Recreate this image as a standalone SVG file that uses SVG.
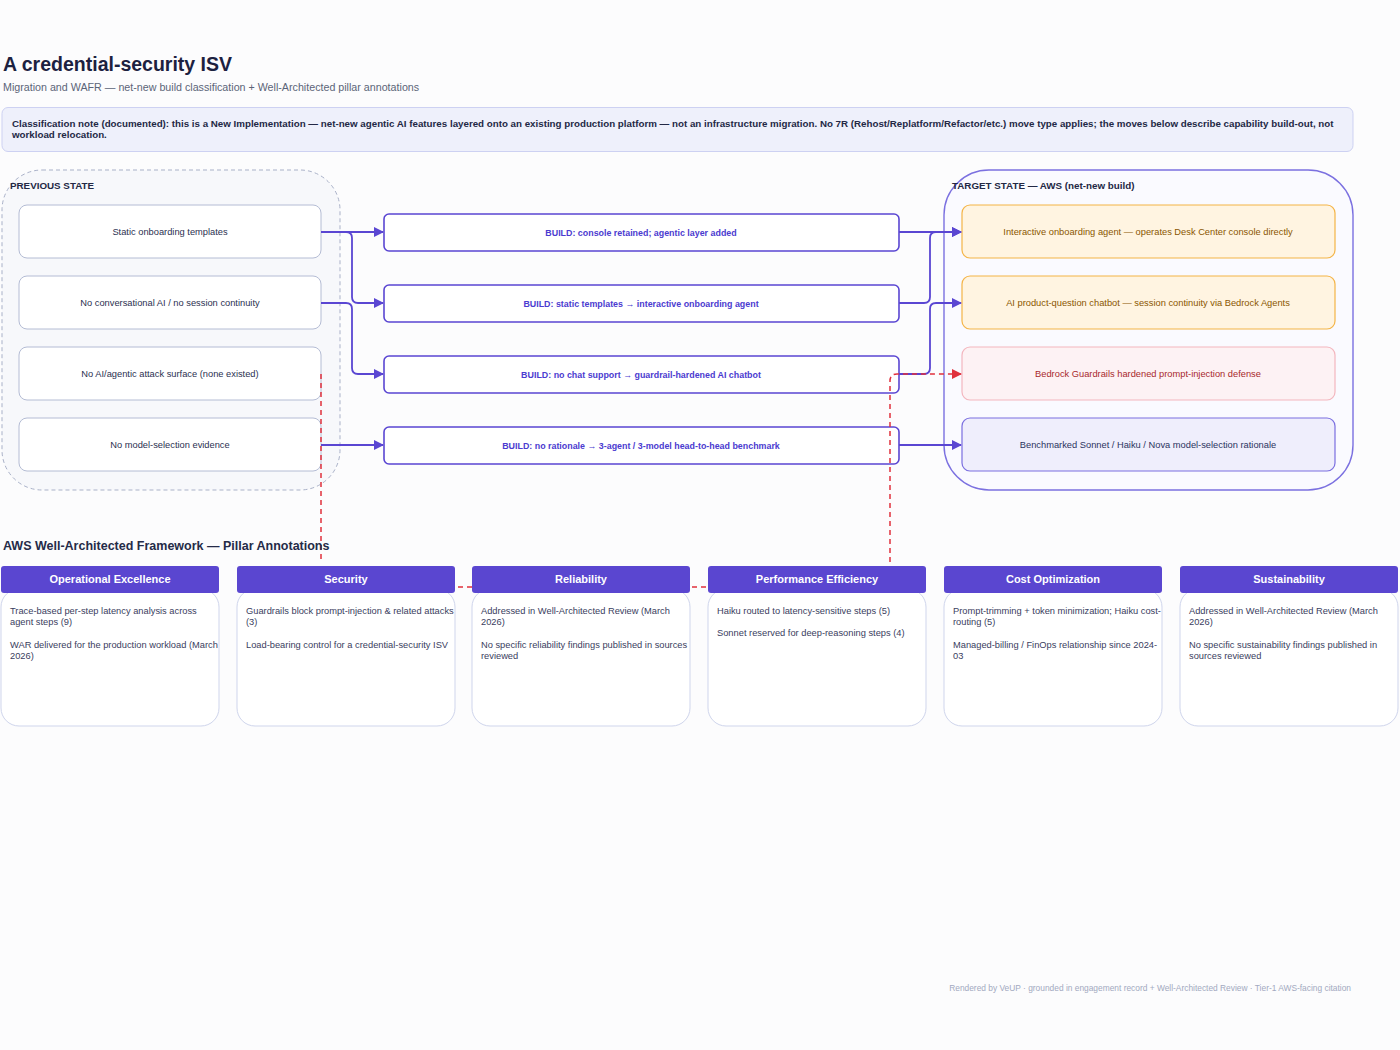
<svg xmlns="http://www.w3.org/2000/svg" width="1400" height="1050" viewBox="0 0 1400 1050">
<style>
text{font-family:"Liberation Sans",Arial,sans-serif}
.title{font-size:19.5px;font-weight:bold;fill:#1c2140}
.sub{font-size:10.7px;fill:#5b6478}
.note{font-size:9.75px;font-weight:bold;fill:#232845}
.glabel{font-size:9.8px;font-weight:bold;fill:#232845}
.prev{fill:#fff;stroke:#b4bcd4;stroke-width:1}
.prevt{font-size:9.3px;fill:#2b3050;text-anchor:middle}
.build{fill:#fff;stroke:#5a46d2;stroke-width:1.6}
.buildt{font-size:8.9px;font-weight:bold;fill:#4b3bd0;text-anchor:middle}
.tor{fill:#fff4e1;stroke:#f4b447;stroke-width:1.2}
.tort{font-size:9.3px;fill:#8a5600;text-anchor:middle}
.tred{fill:#fdf2f4;stroke:#f3b6be;stroke-width:1.2}
.tredt{font-size:9.3px;fill:#a8282c;text-anchor:middle}
.tpur{fill:#efeefc;stroke:#7a6ee0;stroke-width:1.2}
.tpurt{font-size:9.3px;fill:#2b3360;text-anchor:middle}
.edge{fill:none;stroke:#5a46d2;stroke-width:1.8}
.risk{fill:none;stroke:#e0313d;stroke-width:1.5;stroke-dasharray:5,4}
.ph{fill:#5a46d0}
.pht{font-size:11px;font-weight:bold;fill:#fff;text-anchor:middle}
.pb{fill:#fff;stroke:#cfd5ec;stroke-width:1}
.pbt{font-size:9.3px;fill:#3a4060}
.h2{font-size:12.5px;font-weight:bold;fill:#252b48}
.foot{font-size:8.4px;fill:#a2a9c0;text-anchor:end}
</style>
<defs>
<marker id="ap" viewBox="0 0 10 10" refX="9" refY="5" markerWidth="10" markerHeight="10" markerUnits="userSpaceOnUse" orient="auto"><path d="M0,0 L10,5 L0,10 z" fill="#5a46d2"/></marker>
<marker id="ar" viewBox="0 0 10 10" refX="9" refY="5" markerWidth="10" markerHeight="10" markerUnits="userSpaceOnUse" orient="auto"><path d="M0,0 L10,5 L0,10 z" fill="#e0313d"/></marker>
</defs>
<rect width="1400" height="1050" fill="#fcfcfd"/>

<g id="header">
<text class="title" x="3" y="71">A credential-security ISV</text>
<text class="sub" x="3" y="91">Migration and WAFR — net-new build classification + Well-Architected pillar annotations</text>
</g>
<g id="note">
<rect x="2" y="107.5" width="1351" height="44" rx="6" fill="#eef0fb" stroke="#cdd1f2"/>
<text class="note" x="12" y="127">Classification note (documented): this is a New Implementation — net-new agentic AI features layered onto an existing production platform — not an infrastructure migration. No 7R (Rehost/Replatform/Refactor/etc.) move type applies; the moves below describe capability build-out, not</text>
<text class="note" x="12" y="138">workload relocation.</text>
</g>

<g id="previous-state">
<rect x="2" y="170" width="338" height="320" rx="40" fill="#f7f8fb" stroke="#a9b1c8" stroke-dasharray="4,3"/>
<text class="glabel" x="10" y="189">PREVIOUS STATE</text>
</g>
<g id="target-state">
<rect x="944" y="170" width="409" height="320" rx="45" fill="#fafaff" stroke="#7b70e0" stroke-width="1.4"/>
<text class="glabel" x="952" y="189">TARGET STATE — AWS (net-new build)</text>
</g>

<g id="p1"><rect class="prev" x="19" y="205" width="302" height="53" rx="8"/><text class="prevt" x="170" y="234.5">Static onboarding templates</text></g>
<g id="p2"><rect class="prev" x="19" y="276" width="302" height="53" rx="8"/><text class="prevt" x="170" y="305.5">No conversational AI / no session continuity</text></g>
<g id="p3"><rect class="prev" x="19" y="347" width="302" height="53" rx="8"/><text class="prevt" x="170" y="376.5">No AI/agentic attack surface (none existed)</text></g>
<g id="p4"><rect class="prev" x="19" y="418" width="302" height="53" rx="8"/><text class="prevt" x="170" y="447.5">No model-selection evidence</text></g>

<g id="b1"><rect class="build" x="384" y="214" width="515" height="37" rx="5"/><text class="buildt" x="641" y="235.5">BUILD: console retained; agentic layer added</text></g>
<g id="b2"><rect class="build" x="384" y="285" width="515" height="37" rx="5"/><text class="buildt" x="641" y="306.5">BUILD: static templates → interactive onboarding agent</text></g>
<g id="b3"><rect class="build" x="384" y="356" width="515" height="37" rx="5"/><text class="buildt" x="641" y="377.5">BUILD: no chat support → guardrail-hardened AI chatbot</text></g>
<g id="b4"><rect class="build" x="384" y="427" width="515" height="37" rx="5"/><text class="buildt" x="641" y="448.5">BUILD: no rationale → 3-agent / 3-model head-to-head benchmark</text></g>

<g id="t1"><rect class="tor" x="962" y="205" width="373" height="53" rx="8"/><text class="tort" x="1148" y="234.5">Interactive onboarding agent — operates Desk Center console directly</text></g>
<g id="t2"><rect class="tor" x="962" y="276" width="373" height="53" rx="8"/><text class="tort" x="1148" y="305.5">AI product-question chatbot — session continuity via Bedrock Agents</text></g>
<g id="t3"><rect class="tred" x="962" y="347" width="373" height="53" rx="8"/><text class="tredt" x="1148" y="376.5">Bedrock Guardrails hardened prompt-injection defense</text></g>
<g id="t4"><rect class="tpur" x="962" y="418" width="373" height="53" rx="8"/><text class="tpurt" x="1148" y="447.5">Benchmarked Sonnet / Haiku / Nova model-selection rationale</text></g>

<g id="connectors">
<path class="edge" d="M321,232 H383" marker-end="url(#ap)"/>
<path class="edge" d="M321,232 H346 Q352,232 352,238 V297 Q352,303 358,303 H383" marker-end="url(#ap)"/>
<path class="edge" d="M321,303 H346 Q352,303 352,309 V368 Q352,374 358,374 H383" marker-end="url(#ap)"/>
<path class="edge" d="M321,445 H383" marker-end="url(#ap)"/>
<path class="edge" d="M899,232 H961" marker-end="url(#ap)"/>
<path class="edge" d="M899,303 H924 Q930,303 930,297 V238 Q930,232 936,232 H961" marker-end="url(#ap)"/>
<path class="edge" d="M899,374 H924 Q930,374 930,368 V309 Q930,303 936,303 H961" marker-end="url(#ap)"/>
<path class="edge" d="M899,445 H961" marker-end="url(#ap)"/>
<path class="risk" d="M890,562 V381 Q890,374 897,374 H961" marker-end="url(#ar)"/>
<path class="risk" d="M321,374 V562"/>
<path class="risk" d="M440,587 H720"/>
</g>

<text class="h2" x="3" y="550">AWS Well-Architected Framework — Pillar Annotations</text>

<g id="pillar-ops">
<rect class="pb" x="1" y="589" width="218" height="137" rx="18"/>
<rect class="ph" x="1" y="566" width="218" height="27" rx="3"/>
<text class="pht" x="110" y="583">Operational Excellence</text>
<text class="pbt" x="10" y="614">Trace-based per-step latency analysis across</text>
<text class="pbt" x="10" y="625">agent steps (9)</text>
<text class="pbt" x="10" y="648">WAR delivered for the production workload (March</text>
<text class="pbt" x="10" y="659">2026)</text>
</g>
<g id="pillar-sec">
<rect class="pb" x="237" y="589" width="218" height="137" rx="18"/>
<rect class="ph" x="237" y="566" width="218" height="27" rx="3"/>
<text class="pht" x="346" y="583">Security</text>
<text class="pbt" x="246" y="614">Guardrails block prompt-injection &amp; related attacks</text>
<text class="pbt" x="246" y="625">(3)</text>
<text class="pbt" x="246" y="648">Load-bearing control for a credential-security ISV</text>
</g>
<g id="pillar-rel">
<rect class="pb" x="472" y="589" width="218" height="137" rx="18"/>
<rect class="ph" x="472" y="566" width="218" height="27" rx="3"/>
<text class="pht" x="581" y="583">Reliability</text>
<text class="pbt" x="481" y="614">Addressed in Well-Architected Review (March</text>
<text class="pbt" x="481" y="625">2026)</text>
<text class="pbt" x="481" y="648">No specific reliability findings published in sources</text>
<text class="pbt" x="481" y="659">reviewed</text>
</g>
<g id="pillar-perf">
<rect class="pb" x="708" y="589" width="218" height="137" rx="18"/>
<rect class="ph" x="708" y="566" width="218" height="27" rx="3"/>
<text class="pht" x="817" y="583">Performance Efficiency</text>
<text class="pbt" x="717" y="614">Haiku routed to latency-sensitive steps (5)</text>
<text class="pbt" x="717" y="636">Sonnet reserved for deep-reasoning steps (4)</text>
</g>
<g id="pillar-cost">
<rect class="pb" x="944" y="589" width="218" height="137" rx="18"/>
<rect class="ph" x="944" y="566" width="218" height="27" rx="3"/>
<text class="pht" x="1053" y="583">Cost Optimization</text>
<text class="pbt" x="953" y="614">Prompt-trimming + token minimization; Haiku cost-</text>
<text class="pbt" x="953" y="625">routing (5)</text>
<text class="pbt" x="953" y="648">Managed-billing / FinOps relationship since 2024-</text>
<text class="pbt" x="953" y="659">03</text>
</g>
<g id="pillar-sus">
<rect class="pb" x="1180" y="589" width="218" height="137" rx="18"/>
<rect class="ph" x="1180" y="566" width="218" height="27" rx="3"/>
<text class="pht" x="1289" y="583">Sustainability</text>
<text class="pbt" x="1189" y="614">Addressed in Well-Architected Review (March</text>
<text class="pbt" x="1189" y="625">2026)</text>
<text class="pbt" x="1189" y="648">No specific sustainability findings published in</text>
<text class="pbt" x="1189" y="659">sources reviewed</text>
</g>

<text class="foot" x="1351" y="991">Rendered by VeUP · grounded in engagement record + Well-Architected Review · Tier-1 AWS-facing citation</text>
</svg>
